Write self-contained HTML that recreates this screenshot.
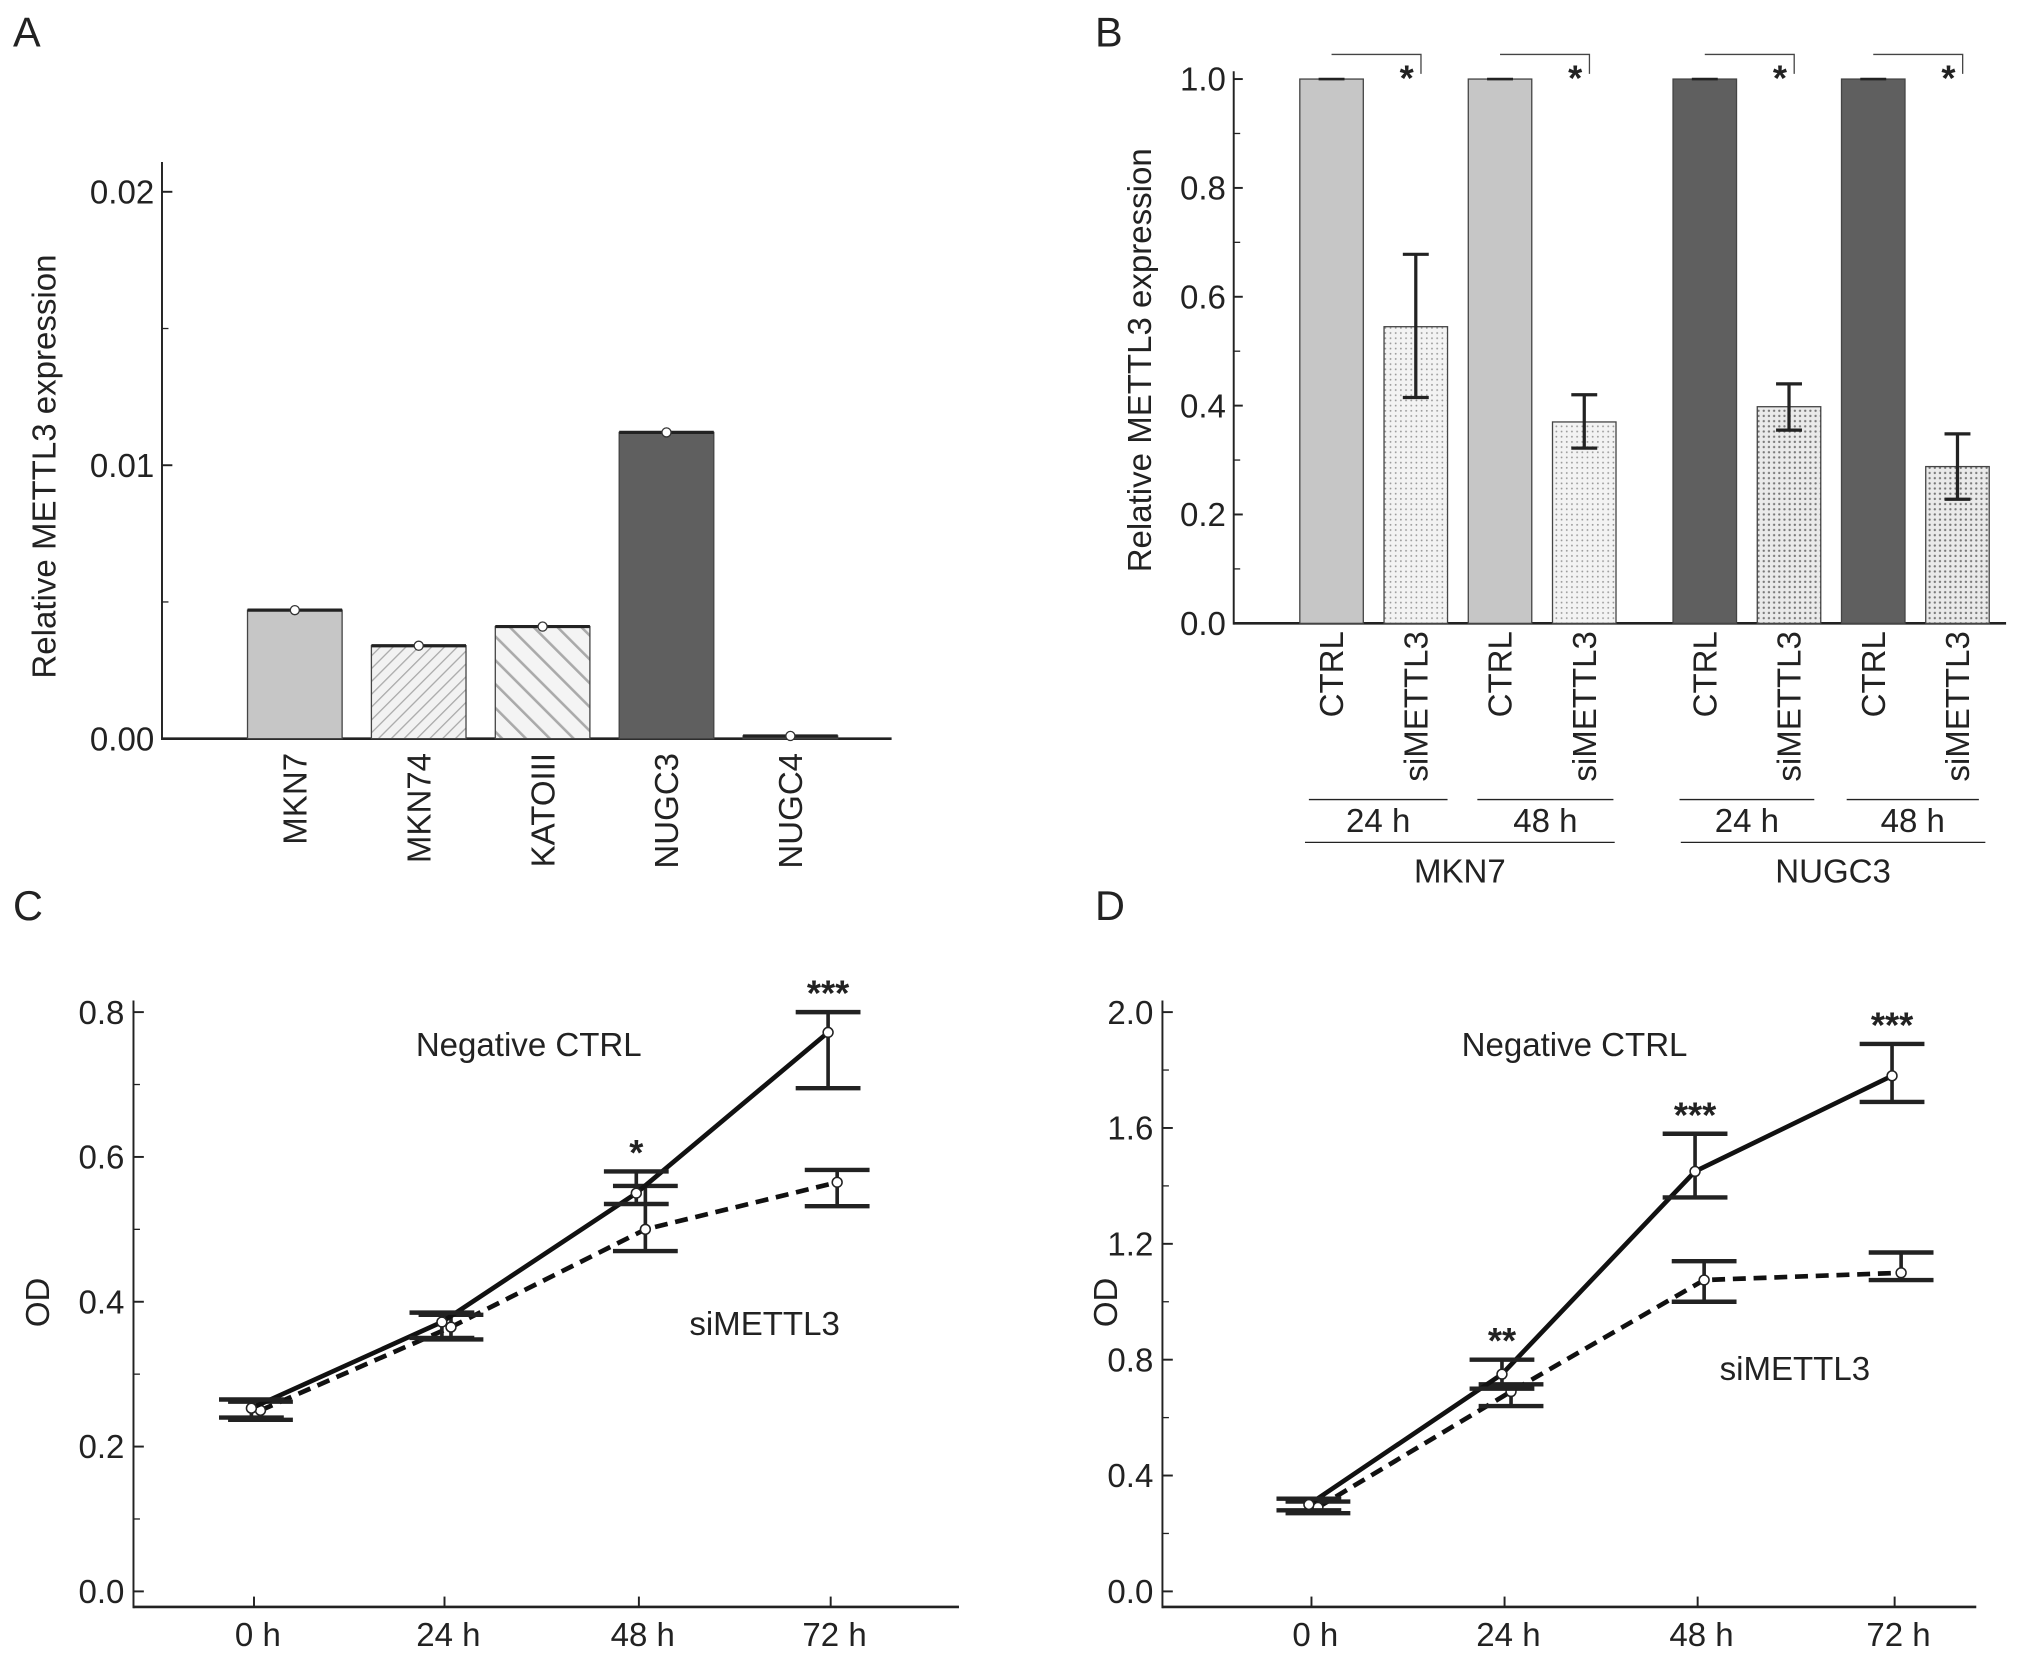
<!DOCTYPE html>
<html><head><meta charset="utf-8"><style>
html,body{margin:0;padding:0;background:#fff}
svg{display:block;font-family:"Liberation Sans",Arial,sans-serif}
</style></head><body>
<svg id="fig" width="2032" height="1658" viewBox="0 0 1568 1279.4" preserveAspectRatio="none">
<defs>
<pattern id="hatchFine" width="7" height="7" patternUnits="userSpaceOnUse" patternTransform="rotate(45)"><rect width="7" height="7" fill="#f2f2f2"/><line x1="0" y1="0" x2="0" y2="7" stroke="#aaa" stroke-width="2"/></pattern>
<pattern id="hatchWide" width="13" height="13" patternUnits="userSpaceOnUse" patternTransform="rotate(-45)"><rect width="13" height="13" fill="#f4f4f4"/><line x1="0" y1="0" x2="0" y2="13" stroke="#aaa" stroke-width="4"/></pattern>
<pattern id="dots" width="4" height="4" patternUnits="userSpaceOnUse"><rect width="4" height="4" fill="#f3f3f3"/><circle cx="1" cy="1" r="0.7" fill="#999"/></pattern>
<pattern id="dotsDark" width="4" height="4" patternUnits="userSpaceOnUse"><rect width="4" height="4" fill="#eaeaea"/><circle cx="1" cy="1" r="0.9" fill="#777"/></pattern>
</defs>
<g id="root"></g>
</svg>
<script>
// Panel A data
const aCats=["MKN7","MKN74","KATOIII","NUGC3","NUGC4"];
const aVals=[0.0047,0.0034,0.0041,0.0112,0.0001];
const aTicks=["0.00","0.01","0.02"];
// Panel B data
const bCats=["CTRL","siMETTL3","CTRL","siMETTL3","CTRL","siMETTL3","CTRL","siMETTL3"];
const bVals=[1,0.545,1,0.37,1,0.398,1,0.288];
const bErrLo=[1,0.415,1,0.322,1,0.355,1,0.228];
const bErrHi=[1,0.678,1,0.42,1,0.44,1,0.348];
const bTicks=["0.0","0.2","0.4","0.6","0.8","1.0"];
// Panel C data
const tLabels=["0 h","24 h","48 h","72 h"];
const cCtrl=[0.253,0.372,0.55,0.772];
const cCtrlLo=[0.24,0.35,0.535,0.695];
const cCtrlHi=[0.265,0.385,0.58,0.80];
const cSi=[0.25,0.365,0.50,0.565];
const cSiLo=[0.237,0.348,0.47,0.532];
const cSiHi=[0.262,0.382,0.56,0.582];
const cStars=["","","*","***"];
const cTicks=["0.0","0.2","0.4","0.6","0.8"];
// Panel D data
const dCtrl=[0.30,0.75,1.45,1.78];
const dCtrlLo=[0.28,0.70,1.36,1.69];
const dCtrlHi=[0.32,0.80,1.58,1.89];
const dSi=[0.29,0.69,1.075,1.10];
const dSiLo=[0.27,0.64,1.00,1.075];
const dSiHi=[0.31,0.715,1.14,1.17];
const dStars=["","**","***","***"];
const dTicks=["0.0","0.4","0.8","1.2","1.6","2.0"];

const FS=25.5;
const NS="http://www.w3.org/2000/svg";
const root=document.getElementById('root');
function mk(tag,attrs,parent,text){const e=document.createElementNS(NS,tag);for(const k in attrs)e.setAttribute(k,attrs[k]);if(text!==undefined)e.textContent=text;(parent||root).appendChild(e);return e;}
function line(x1,y1,x2,y2,w,p,dash){const a={x1,y1,x2,y2,stroke:'#222','stroke-width':w||1.5};if(dash)a['stroke-dasharray']=dash;return mk('line',a,p);}
function txt(x,y,s,size,anchor,p,rot){const a={x,y,'font-size':size,'text-anchor':anchor||'middle',fill:'#222'};if(rot)a.transform=`rotate(${rot} ${x} ${y})`;return mk('text',a,p,s);}

// panel letters
[["A",10,36],["B",845,36],["C",10,710],["D",845,710]].forEach(l=>{const t=txt(l[1],l[2],l[0],32,'start');});

// ---------- Panel A ----------
{
const g=mk('g',{});
const y=v=>570-(v/0.02)*422;
const x0=191,step=95.6,bw=73;
line(125,125,125,571,1.5,g);line(125,570,688,570,2,g);
aTicks.forEach((t,i)=>{const v=i*0.01;line(125,y(v),133,y(v),1.5,g);const tt=txt(119,y(v)+9,t,FS,'end',g);});
[0.005,0.015].forEach(v=>line(125,y(v),130,y(v),1,g));
const yt=txt(43,360,"Relative METTL3 expression",FS,'middle',g,-90);
const fills=['#c6c6c6','url(#hatchFine)','url(#hatchWide)','#5f5f5f','#444'];
aCats.forEach((c,i)=>{const bx=x0+i*step;const r=mk('rect',{x:bx,y:y(aVals[i]),width:bw,height:570-y(aVals[i]),fill:fills[i],stroke:'#444','stroke-width':1},g);

line(bx,y(aVals[i]),bx+bw,y(aVals[i]),2.5,g);
mk('circle',{cx:bx+bw/2,cy:y(aVals[i]),r:3.5,fill:'#fff',stroke:'#333','stroke-width':1},g);
const lt=txt(bx+bw/2+9,581,c,FS,'end',g,-90);});
}

// ---------- Panel B ----------
{
const g=mk('g',{});
const y=v=>481-v*420;
const bw=49;const xs=[1003,1068,1133,1198,1291,1356,1421,1486];
line(952,55,952,482,1.5,g);line(952,481,1548,481,2,g);
bTicks.forEach((t,i)=>{const v=i*0.2;line(952,y(v),959,y(v),1.5,g);const tt=txt(946,y(v)+9,t,FS,'end',g);});
for(let i=0;i<5;i++)line(952,y(0.1+i*0.2),957,y(0.1+i*0.2),1,g);
const yt=txt(888,278,"Relative METTL3 expression",FS,'middle',g,-90);
bCats.forEach((c,i)=>{const bx=xs[i];const ctrl=c==='CTRL';const dark=i>=4;
const f=ctrl?(dark?'#5f5f5f':'#c6c6c6'):(dark?'url(#dotsDark)':'url(#dots)');
const r=mk('rect',{x:bx,y:y(bVals[i]),width:bw,height:481-y(bVals[i]),fill:f,stroke:'#444','stroke-width':1},g);

const cx=bx+bw/2;
if(ctrl){line(cx-10,y(1),cx+10,y(1),2,g);}
else{line(cx,y(bErrLo[i]),cx,y(bErrHi[i]),2.5,g);line(cx-10,y(bErrLo[i]),cx+10,y(bErrLo[i]),2.5,g);line(cx-10,y(bErrHi[i]),cx+10,y(bErrHi[i]),2.5,g);}
const lt=txt(cx+9,487,c,FS,'end',g,-90);
if(ctrl){const x1=cx,x2=xs[i+1]+bw/2+4;mk('path',{d:`M${x1} 42 H${x2} V57`,fill:'none',stroke:'#444','stroke-width':1},g);
const st=txt(x2-11,70,'*',28,'middle',g);st.setAttribute('font-weight','bold');}
});
[[1010,1117,'24 h'],[1140,1245,'48 h'],[1296,1400,'24 h'],[1425,1527,'48 h']].forEach(s=>{line(s[0],617,s[1],617,1,g);const t=txt((s[0]+s[1])/2,642,s[2],FS,'middle',g);});
[[1007,1246,'MKN7'],[1297,1532,'NUGC3']].forEach(s=>{line(s[0],650,s[1],650,1,g);const t=txt((s[0]+s[1])/2,681,s[2],FS,'middle',g);});
}

// ---------- line panels ----------
function linePanel(name,ax,xEnd,xs,ymax,ticks,ctrl,cLo,cHi,si,sLo,sHi,stars,negPos,siPos,starY,odX){
const g=mk('g',{});
const y=v=>1228-(v/ymax)*447;
line(ax,772,ax,1241,1.5,g);line(ax,1240,xEnd,1240,2,g);
const n=ticks.length-1;
ticks.forEach((t,i)=>{const v=ymax*i/n;line(ax,y(v),ax+8,y(v),1.5,g);const tt=txt(ax-7,y(v)+9,t,FS,'end',g);if(i<n)line(ax,y(v+ymax/n/2),ax+5,y(v+ymax/n/2),1,g);});
const yt=txt(odX,1005,"OD",FS,'middle',g,-90);
tLabels.forEach((t,i)=>{line(xs[i],1240,xs[i],1232,1.5,g);const tt=txt(xs[i]+3,1270,t,FS,'middle',g);});
const drawSeries=(vals,lo,hi,dx,dash,sname)=>{
const pts=vals.map((v,i)=>`${xs[i]+dx},${y(v)}`).join(' ');
const pl=mk('polyline',{points:pts,fill:'none',stroke:'#111','stroke-width':3.6},g);if(dash)pl.setAttribute('stroke-dasharray',dash);

vals.forEach((v,i)=>{const cx=xs[i]+dx;line(cx,y(lo[i]),cx,y(hi[i]),2.8,g);line(cx-25,y(lo[i]),cx+25,y(lo[i]),3.4,g);line(cx-25,y(hi[i]),cx+25,y(hi[i]),3.4,g);
const c=mk('circle',{cx,cy:y(v),r:3.8,fill:'#fff',stroke:'#222','stroke-width':1.2},g);});};
drawSeries(si,sLo,sHi,5,'10 6','simettl3');
drawSeries(ctrl,cLo,cHi,-2,null,'negative-ctrl');
stars.forEach((s,i)=>{if(s){const t=txt(xs[i]-2,y(cHi[i])-starY,s,28,'middle',g);t.setAttribute('font-weight','bold');}});
const l1=txt(negPos[0],negPos[1],"Negative CTRL",FS,'middle',g);
const l2=txt(siPos[0],siPos[1],"siMETTL3",FS,'middle',g);
}
linePanel('panel-c-chart',103,740,[196,343,493,641],0.8,cTicks,cCtrl,cCtrlLo,cCtrlHi,cSi,cSiLo,cSiHi,cStars,[408,815],[590,1030],5,38);
linePanel('panel-d-chart',897,1525,[1012,1161,1310,1462],2.0,dTicks,dCtrl,dCtrlLo,dCtrlHi,dSi,dSiLo,dSiHi,dStars,[1215,815],[1385,1065],5,862);
</script>
</body></html>
